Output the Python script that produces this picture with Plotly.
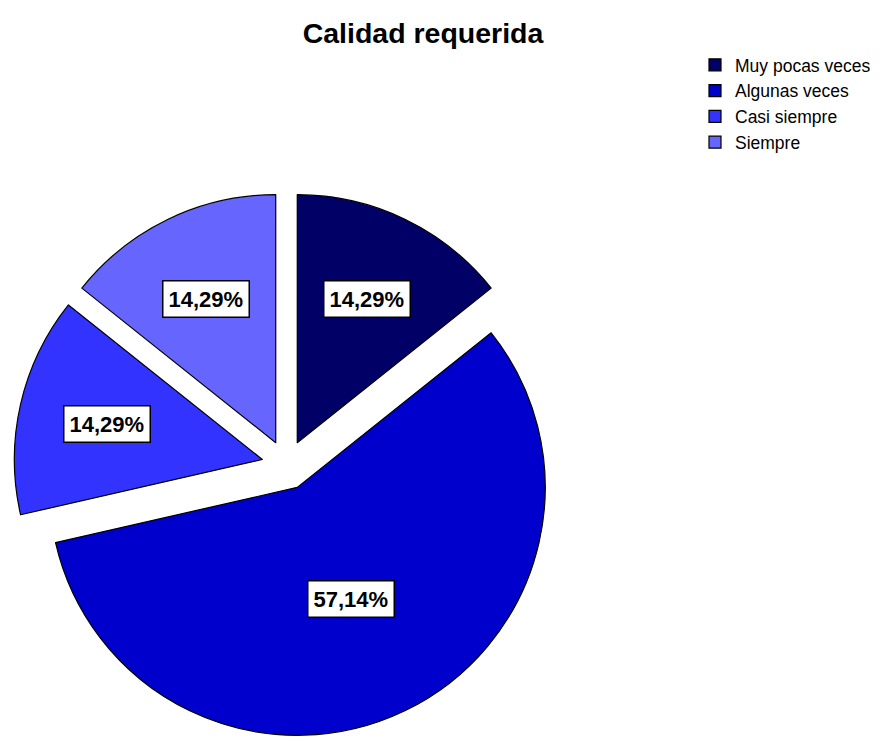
import math
import plotly.graph_objects as go

categories = ["Muy pocas veces", "Algunas veces", "Casi siempre", "Siempre"]
values = [14.29, 57.14, 14.29, 14.29]
label_texts = ["14,29%", "57,14%", "14,29%", "14,29%"]
colors = ["#000066", "#0000CC", "#3333FF", "#6666FF"]

W, H = 891, 738
pull = 0.1
dom_x = [0.0154, 0.6277]
dom_y = [0.0003, 0.7395]

fig = go.Figure()
fig.add_trace(go.Pie(
    labels=categories, values=values, sort=False, direction="clockwise", rotation=0,
    pull=[pull] * len(values),
    marker=dict(colors=colors, line=dict(color="#000000", width=1.2)),
    textinfo="none", hoverinfo="label+percent",
    domain=dict(x=dom_x, y=dom_y),
))

# label positions computed from the data (sector centroid)
cx = (dom_x[0] + dom_x[1]) / 2 * W
cy = (1 - (dom_y[0] + dom_y[1]) / 2) * H
R = min((dom_x[1] - dom_x[0]) * W, (dom_y[1] - dom_y[0]) * H) / (2 * (1 + pull))
total = sum(values)
cum = 0
for v, t in zip(values, label_texts):
    half = math.pi * v / total
    mid = 2 * math.pi * cum / total + half
    cum += v
    cfrac = (2 / 3) * math.sin(half) / half
    d = R * (pull + max(cfrac, 0.5))
    px = cx + d * math.sin(mid)
    py = cy - d * math.cos(mid)
    fig.add_annotation(
        x=px / W, y=1 - py / H, xref="paper", yref="paper",
        xanchor="center", yanchor="middle",
        text="<b>" + t + "</b>", showarrow=False,
        font=dict(family="Liberation Sans, Arial", size=22, color="#000000"),
        bgcolor="#FFFFFF", bordercolor="#000000", borderwidth=1.5, borderpad=5,
    )

fig.update_layout(
    width=W, height=H,
    margin=dict(l=0, r=0, t=0, b=0),
    paper_bgcolor="#FFFFFF", plot_bgcolor="#FFFFFF",
    title=dict(text="<b>Calidad requerida</b>", x=423 / W, xanchor="center",
               y=1 - 33 / H, yanchor="middle", yref="container",
               font=dict(family="Liberation Sans, Arial", size=28.5, color="#000000")),
    legend=dict(x=695 / W, y=1 - 47 / H, xanchor="left", yanchor="top",
                font=dict(family="Liberation Sans, Arial", size=17.5, color="#000000"),
                traceorder="normal", bgcolor="rgba(0,0,0,0)"),
    showlegend=True,
)

fig.write_html("out.html")
